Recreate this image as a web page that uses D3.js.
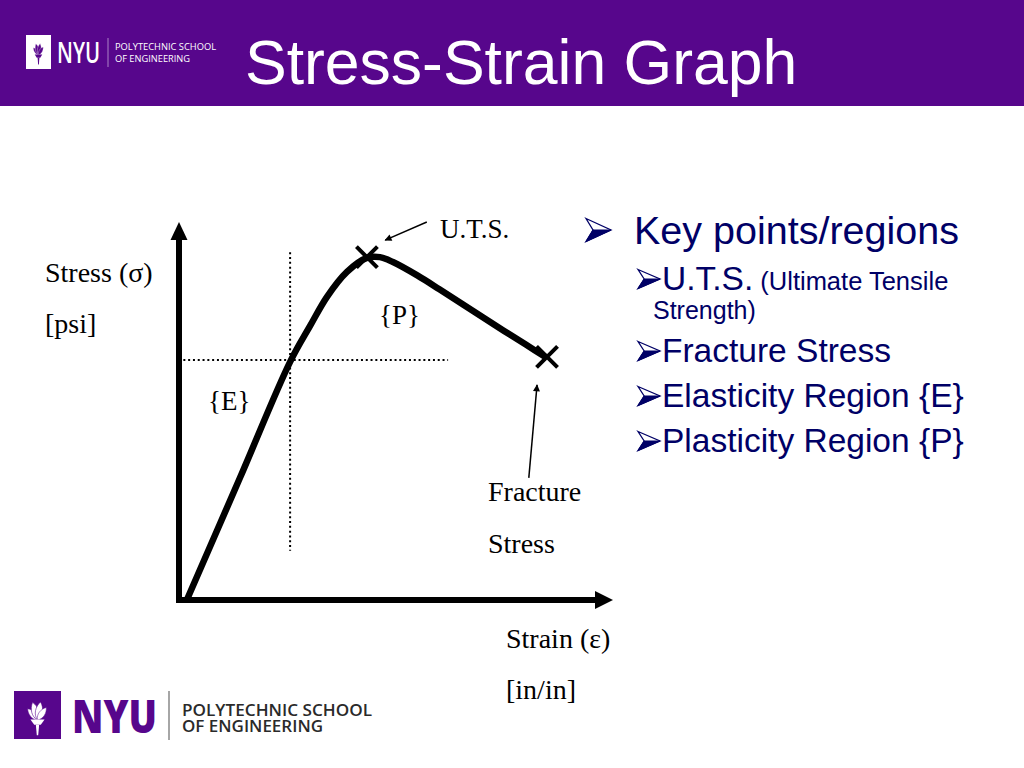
<!DOCTYPE html>
<html>
<head>
<meta charset="utf-8">
<script src="https://cdn.jsdelivr.net/npm/d3@7"></script>
<style>
  html, body { margin: 0; padding: 0; background: #ffffff; }
  svg { display: block; }
</style>
</head>
<body>
<script>
// ---------- DATA ----------
// Stress-strain curve (arbitrary units: strain 0-10, stress 0-10)
const curveStrain = [0.18, 1.40, 2.56, 3.02, 3.41, 3.87, 4.33, 4.63, 4.93, 5.50, 6.00, 6.50, 7.00, 7.50, 8.00, 8.48];
const curveStress = [0.00, 3.22, 6.30, 7.25, 8.02, 8.68, 9.05, 9.07, 8.94, 8.58, 8.22, 7.85, 7.48, 7.11, 6.75, 6.40];
// Key points (U.T.S. and fracture) marked with X
const keyNames  = ["U.T.S.", "Fracture"];
const keyStrain = [4.33, 8.48];
const keyStress = [9.07, 6.43];
// Yield (elastic limit) guide lines
const yieldStrain = 2.56;
const yieldStress = 6.35;
const guideVertStress = [1.30, 9.20];
const guideHorizStrain = [0.10, 6.20];
// Annotation arrows [fromStrain, fromStress, toStrain, toStress]
const utsArrow = [5.71, 10.0, 4.75, 9.52];
const fracArrow = [8.06, 3.23, 8.25, 5.69];
// Axis labels
const yLabelLines = ["Stress (\u03c3)", "[psi]"];
const xLabelLines = ["Strain (\u03b5)", "[in/in]"];
const fracLabelLines = ["Fracture", "Stress"];
const regionLabels = ["{E}", "{P}"];
// Bullet text
const title = "Stress-Strain Graph";
const bulletMain = "Key points/regions";
const subBullets = ["U.T.S.", "Fracture Stress", "Elasticity Region {E}", "Plasticity Region {P}"];
const utsNote1 = "(Ultimate Tensile";
const utsNote2 = "Strength)";

// ---------- SETUP ----------
const W = 1024, H = 768;
const purple = "#57068c";
const navy = "#000066";
const serif = "'Liberation Serif', 'Times New Roman', serif";
const sans = "'Liberation Sans', Arial, sans-serif";

const svg = d3.select("body").append("svg").attr("width", W).attr("height", H);

svg.append("defs").append("marker")
  .attr("id", "thinArrow").attr("viewBox", "0 0 10 10")
  .attr("refX", 9).attr("refY", 5)
  .attr("markerWidth", 9).attr("markerHeight", 7)
  .attr("markerUnits", "userSpaceOnUse")
  .attr("orient", "auto")
  .append("path").attr("d", "M0,0 L10,5 L0,10 Z").attr("fill", "#000");

// ---------- HEADER ----------
svg.append("rect").attr("x", 0).attr("y", 0).attr("width", W).attr("height", 106).attr("fill", purple);

svg.append("text").attr("x", 245).attr("y", 84)
  .attr("font-family", sans).attr("font-size", 62.5).attr("fill", "#fff")
  .text(title);

// torch drawing helper (in 100x100 box)
function torch(g, color) {
  const angles = [-42, -16, 10, 36];
  const scales = [0.78, 0.95, 0.95, 0.8];
  angles.forEach((a, i) => {
    g.append("path")
      .attr("d", "M50,56 C39,46 40,28 50,16 C60,28 61,46 50,56Z")
      .attr("transform", `rotate(${a},50,56) translate(50,56) scale(${scales[i]}) translate(-50,-56)`)
      .attr("fill", color).attr("stroke", color === "#fff" ? purple : "#fff").attr("stroke-width", 1.2);
  });
  g.append("path").attr("d", "M35,55 L65,55 L57,66 L43,66 Z").attr("fill", color);
  g.append("path").attr("d", "M46.5,66 L53.5,66 L51.5,88 L48.5,88 Z").attr("fill", color);
}

// header logo
svg.append("rect").attr("x", 26).attr("y", 35).attr("width", 25).attr("height", 34).attr("fill", "#fff");
torch(svg.append("g").attr("transform", "translate(26,38) scale(0.25,0.3)"), purple);
svg.append("text").attr("x", 57).attr("y", 63)
  .attr("font-family", "'Open Sans', Arial, sans-serif").attr("font-weight", 600).attr("font-size", 28)
  .attr("fill", "#fff").attr("textLength", 43).attr("lengthAdjust", "spacingAndGlyphs").text("NYU");
svg.append("line").attr("x1", 108).attr("x2", 108).attr("y1", 38).attr("y2", 67)
  .attr("stroke", "#fff").attr("stroke-opacity", 0.5).attr("stroke-width", 1);
svg.append("text").attr("x", 115).attr("y", 50)
  .attr("font-family", "'Open Sans', Arial, sans-serif").attr("font-size", 9.5).attr("fill", "#fff")
  .attr("textLength", 101).attr("lengthAdjust", "spacingAndGlyphs").text("POLYTECHNIC SCHOOL");
svg.append("text").attr("x", 115).attr("y", 61.5)
  .attr("font-family", "'Open Sans', Arial, sans-serif").attr("font-size", 9.5).attr("fill", "#fff")
  .attr("textLength", 75).attr("lengthAdjust", "spacingAndGlyphs").text("OF ENGINEERING");

// footer logo
svg.append("rect").attr("x", 14).attr("y", 691).attr("width", 47).attr("height", 48).attr("fill", purple);
torch(svg.append("g").attr("transform", "translate(14,693) scale(0.47,0.48)"), "#fff");
svg.append("text").attr("x", 72).attr("y", 733)
  .attr("font-family", "'Open Sans', Arial, sans-serif").attr("font-weight", 800).attr("font-size", 46)
  .attr("fill", purple).attr("textLength", 85).attr("lengthAdjust", "spacingAndGlyphs").text("NYU");
svg.append("line").attr("x1", 169).attr("x2", 169).attr("y1", 691).attr("y2", 740)
  .attr("stroke", "#888").attr("stroke-width", 1.5);
svg.append("text").attr("x", 182).attr("y", 716)
  .attr("font-family", "'Open Sans', Arial, sans-serif").attr("font-weight", 600).attr("font-size", 16.5)
  .attr("fill", "#2a2a2a").attr("textLength", 190).attr("lengthAdjust", "spacingAndGlyphs").text("POLYTECHNIC SCHOOL");
svg.append("text").attr("x", 182).attr("y", 732)
  .attr("font-family", "'Open Sans', Arial, sans-serif").attr("font-weight", 600).attr("font-size", 16.5)
  .attr("fill", "#2a2a2a").attr("textLength", 141).attr("lengthAdjust", "spacingAndGlyphs").text("OF ENGINEERING");

// ---------- CHART ----------
const x = d3.scaleLinear().domain([0, 10]).range([179, 613]);
const y = d3.scaleLinear().domain([0, 10]).range([600, 222]);

const chart = svg.append("g");

// Axes as thick arrows
const x0 = x(0), y0 = y(0);
chart.append("line").attr("x1", x0).attr("x2", x0).attr("y1", y0 + 3).attr("y2", y(10) + 16)
  .attr("stroke", "#000").attr("stroke-width", 6);
chart.append("path")
  .attr("d", `M${x0},${y(10)} L${x0 + 8.5},${y(10) + 18} L${x0 - 8.5},${y(10) + 18} Z`).attr("fill", "#000");
chart.append("line").attr("x1", x0 - 3).attr("x2", x(10) - 16).attr("y1", y0).attr("y2", y0)
  .attr("stroke", "#000").attr("stroke-width", 6);
chart.append("path")
  .attr("d", `M${x(10)},${y0} L${x(10) - 18},${y0 - 9} L${x(10) - 18},${y0 + 9} Z`).attr("fill", "#000");

// dotted guide lines
chart.append("line")
  .attr("x1", x(yieldStrain)).attr("x2", x(yieldStrain))
  .attr("y1", y(guideVertStress[1])).attr("y2", y(guideVertStress[0]))
  .attr("stroke", "#000").attr("stroke-width", 2).attr("stroke-dasharray", "2,2.8");
chart.append("line")
  .attr("x1", x(guideHorizStrain[0])).attr("x2", x(guideHorizStrain[1]))
  .attr("y1", y(yieldStress)).attr("y2", y(yieldStress))
  .attr("stroke", "#000").attr("stroke-width", 2).attr("stroke-dasharray", "2,2.8");

// curve
const curveData = curveStrain.map((s, i) => ({ strain: s, stress: curveStress[i] }));
const line = d3.line().x(d => x(d.strain)).y(d => y(d.stress)).curve(d3.curveCatmullRom.alpha(0.5));
chart.append("path").datum(curveData).attr("d", line)
  .attr("fill", "none").attr("stroke", "#000").attr("stroke-width", 6.5)
  .attr("stroke-linejoin", "round").attr("stroke-linecap", "butt");

// X markers
const keyData = keyNames.map((n, i) => ({ name: n, strain: keyStrain[i], stress: keyStress[i] }));
const s = 10.5;
chart.selectAll(".xmark").data(keyData).join("path")
  .attr("class", "xmark")
  .attr("d", d => {
    const cx = x(d.strain), cy = y(d.stress);
    return `M${cx - s},${cy - s} L${cx + s},${cy + s} M${cx - s},${cy + s} L${cx + s},${cy - s}`;
  })
  .attr("stroke", "#000").attr("stroke-width", 4).attr("fill", "none");

// annotation arrows
[utsArrow, fracArrow].forEach(a => {
  chart.append("line")
    .attr("x1", x(a[0])).attr("y1", y(a[1])).attr("x2", x(a[2])).attr("y2", y(a[3]))
    .attr("stroke", "#000").attr("stroke-width", 1.5).attr("marker-end", "url(#thinArrow)");
});

// chart labels
const lbl = (txt, px, py, fs) => chart.append("text").attr("x", px).attr("y", py)
  .attr("font-family", serif).attr("font-size", fs || 28).attr("fill", "#000").text(txt);
lbl(yLabelLines[0], 45, 282);
lbl(yLabelLines[1], 45, 333);
lbl(xLabelLines[0], 506, 648);
lbl(xLabelLines[1], 506, 699);
lbl(fracLabelLines[0], 488, 501);
lbl(fracLabelLines[1], 488, 553);
lbl(regionLabels[0], 208, 410, 27);
lbl(regionLabels[1], 379, 324, 27);
lbl(keyNames[0], 440, 238, 27);

// ---------- BULLETS ----------
const bul = svg.append("g").attr("fill", navy);
// arrowhead bullet mark: outlined upper half, filled lower half
function bulletMark(cx, cy, w, h) {
  const g = bul.append("g").attr("transform", `translate(${cx},${cy})`);
  g.append("path")
    .attr("d", `M0,${-h / 2} L${w},0 L0,${h / 2} L${w * 0.28},0 Z`)
    .attr("fill", "#fff").attr("stroke", navy).attr("stroke-width", 1.3).attr("stroke-linejoin", "miter");
  g.append("path")
    .attr("d", `M${w * 0.28},0 L${w},0 L0,${h / 2} Z`)
    .attr("fill", navy).attr("stroke", navy).attr("stroke-width", 1);
}
bulletMark(586, 230, 25, 23);
bul.append("text").attr("x", 634).attr("y", 244)
  .attr("font-family", sans).attr("font-size", 39.5).text(bulletMain);

const subY = [290, 362, 407, 452];
subBullets.forEach((t, i) => {
  bulletMark(638, subY[i] - 11, 22, 19);
  const tx = bul.append("text").attr("x", 662).attr("y", subY[i])
    .attr("font-family", sans).attr("font-size", 33.5).text(t);
  if (i === 0) {
    tx.append("tspan").attr("font-size", 25.5).text(" " + utsNote1);
  }
});
bul.append("text").attr("x", 653).attr("y", 319)
  .attr("font-family", sans).attr("font-size", 25).text(utsNote2);
</script>
</body>
</html>
